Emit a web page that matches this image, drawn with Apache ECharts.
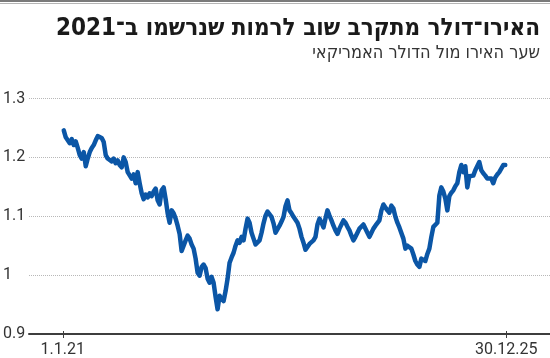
<!DOCTYPE html>
<html><head><meta charset="utf-8">
<script src="https://cdn.jsdelivr.net/npm/echarts@6/dist/echarts.min.js"></script>
<style>html,body{margin:0;padding:0;background:#fff}#c{width:550px;height:358px}</style>
</head><body><div id="c"></div>
<script>
const titleText = 'האירו־דולר מתקרב שוב לרמות שנרשמו ב־2021';
const subtitleText = 'שער האירו מול הדולר האמריקאי';
// readings sampled at equal steps between these two dates
const firstSampleDate = '2021-01-05';
const lastSampleDate = '2025-12-26';
const eurUsd = [
  1.246,1.234,1.229,1.224,1.231,1.221,1.227,1.216,1.204,1.198,
  1.209,1.185,1.198,1.209,1.216,1.221,1.229,1.236,1.239,1.233,
  1.226,1.204,1.198,1.200,1.193,1.198,1.190,1.195,1.187,1.183,
  1.200,1.192,1.175,1.178,1.164,1.171,1.156,1.175,1.156,1.139,
  1.129,1.137,1.132,1.139,1.134,1.142,1.147,1.127,1.120,1.144,
  1.149,1.129,1.105,1.089,1.110,1.105,1.096,1.084,1.070,1.041,
  1.041,1.059,1.067,1.062,1.052,1.045,1.028,1.004,0.999,1.014,
  1.018,1.012,0.994,0.987,0.997,0.987,0.963,0.942,0.965,0.960,
  0.956,0.973,0.994,1.021,1.030,1.038,1.050,1.059,1.055,1.065,
  1.059,1.079,1.096,1.089,1.072,1.062,1.052,1.050,1.059,1.072,
  1.088,1.101,1.108,1.106,1.099,1.088,1.072,1.072,1.084,1.091,
  1.099,1.117,1.127,1.110,1.105,1.099,1.096,1.089,1.079,1.065,
  1.055,1.043,1.045,1.053,1.050,1.059,1.065,1.086,1.096,1.089,
  1.081,1.096,1.110,1.101,1.093,1.084,1.076,1.070,1.079,1.086,
  1.093,1.089,1.082,1.076,1.067,1.059,1.065,1.072,1.079,1.082,
  1.086,1.089,1.072,1.065,1.072,1.079,1.084,1.081,1.093,1.110,
  1.120,1.115,1.110,1.106,1.118,1.113,1.099,1.089,1.081,1.082,
  1.062,1.045,1.050,1.048,1.045,1.035,1.024,1.018,1.014,1.028,
  1.031,1.024,1.036,1.045,1.065,1.082,1.082,1.089,1.135,1.149,
  1.142,1.130,1.110,1.134,1.140,1.144,1.151,1.156,1.175,1.187,
  1.175,1.185,1.149,1.168,1.171,1.169,1.178,1.181,1.192,1.178,
  1.173,1.169,1.164,1.161,1.164,1.156,1.166,1.171,1.175,1.181,
  1.187,1.187
];
const tickDates = ['2021-01-01', '2025-12-30'];
const tickLabels = ['1.1.21', '30.12.25'];
const axisStart = '2020-08-15';
const axisEnd = '2026-06-28';
const yMin = 0.9, yMax = 1.3, yStep = 0.1;

const t0 = Date.parse(firstSampleDate), t1 = Date.parse(lastSampleDate);
const seriesData = eurUsd.map((v, i) => [t0 + i * (t1 - t0) / (eurUsd.length - 1), v]);
const tickTimes = tickDates.map(d => Date.parse(d));

const chart = echarts.init(document.getElementById('c'), null, {renderer: 'canvas'});
const numFont = 'Roboto, "Liberation Sans", sans-serif';
chart.setOption({
  animation: false,
  backgroundColor: '#fff',
  graphic: [
    {type: 'rect', left: 0, top: 0, shape: {width: 550, height: 2}, style: {fill: '#7a7a7a'}},
    {type: 'rect', left: 0, top: 3, shape: {width: 550, height: 1}, style: {fill: '#b5b5b5'}}
  ],
  title: [
    {text: titleText, right: 5, top: 12,
     textStyle: {fontFamily: '"DejaVu Sans Condensed", "DejaVu Sans", sans-serif', fontWeight: 'bold', fontSize: 24, color: '#1a1a1a'}},
    {text: subtitleText, right: 5, top: 39,
     textStyle: {fontFamily: '"DejaVu Sans Condensed", "Liberation Sans", sans-serif', fontWeight: 'normal', fontSize: 18, color: '#333'}}
  ],
  grid: {left: 28, right: 0, top: 98.5, bottom: 24, containLabel: false},
  xAxis: [
    {type: 'value', min: Date.parse(axisStart), max: Date.parse(axisEnd),
     axisLine: {show: true, lineStyle: {color: '#3d3d3d', width: 2}},
     axisTick: {show: true, customValues: tickTimes, length: 4, lineStyle: {color: '#3d3d3d', width: 1}},
     axisLabel: {show: true, customValues: tickTimes, margin: 8, fontFamily: numFont, fontSize: 16, color: '#333',
       formatter: (val) => { const i = tickTimes.indexOf(val); return i >= 0 ? tickLabels[i] : ''; }},
     splitLine: {show: false}},
    {type: 'value', min: Date.parse(axisStart), max: Date.parse(axisEnd), position: 'bottom',
     axisLine: {show: false},
     axisTick: {show: true, inside: true, customValues: tickTimes, length: 3, lineStyle: {color: '#3d3d3d', width: 1}},
     axisLabel: {show: false}, splitLine: {show: false}}
  ],
  yAxis: {type: 'value', min: yMin, max: yMax, interval: yStep,
    axisLine: {show: false}, axisTick: {show: false},
    axisLabel: {align: 'left', margin: 26, fontFamily: numFont, fontSize: 16, color: '#333'},
    splitLine: {show: true, lineStyle: {color: '#b8b8b8', width: 1, type: [1, 1]}}},
  series: [{
    type: 'line', data: seriesData, xAxisIndex: 0, showSymbol: false, symbol: 'none',
    lineStyle: {color: '#0b56a6', width: 4.5, join: 'round', cap: 'round'}
  }]
});
</script></body></html>
